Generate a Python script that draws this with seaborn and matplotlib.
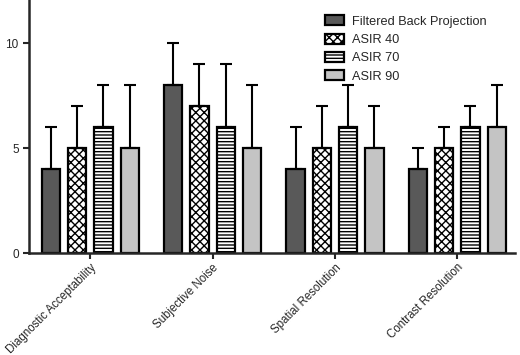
import pandas as pd
import matplotlib.pyplot as plt
import seaborn as sns

categories = ['Diagnostic Acceptability', 'Subjective Noise', 'Spatial Resolution', 'Contrast Resolution']
methods = ['Filtered Back Projection', 'ASIR 40', 'ASIR 70', 'ASIR 90']

# bar heights per method (one value per category)
fbp = [4, 8, 4, 4]
asir40 = [5, 7, 5, 5]
asir70 = [6, 6, 6, 6]
asir90 = [5, 5, 5, 6]

# top of the upper error bar per method
fbp_top = [6, 10, 6, 5]
asir40_top = [7, 9, 7, 6]
asir70_top = [8, 9, 8, 7]
asir90_top = [8, 8, 7, 8]

values = [fbp, asir40, asir70, asir90]
tops = [fbp_top, asir40_top, asir70_top, asir90_top]

rows = []
for m, vals in zip(methods, values):
    for c, v in zip(categories, vals):
        rows.append({'category': c, 'method': m, 'score': v})
df = pd.DataFrame(rows)

sns.set_style('ticks')
plt.rcParams['font.family'] = ['Liberation Sans', 'DejaVu Sans']
plt.rcParams['hatch.linewidth'] = 1.0

fig = plt.figure(figsize=(5.2, 3.55), dpi=100)
ax = fig.add_axes([0.056, 0.287, 0.934, 0.713])

palette = ['#595959', 'white', 'white', '#c4c4c4']
sns.barplot(
    data=df, x='category', y='score', hue='method',
    palette=palette, edgecolor='black', linewidth=1.6,
    width=0.86, gap=0.3, errorbar=None, ax=ax, legend=False,
)

hatches = [None, 'xxxx', '-----', None]
for cont, hatch, vals, top in zip(ax.containers, hatches, values, tops):
    xs = []
    for bar in cont:
        if hatch:
            bar.set_hatch(hatch)
        xs.append(bar.get_x() + bar.get_width() / 2)
    err = [t - v for t, v in zip(top, vals)]
    ax.errorbar(xs, vals, yerr=[[0] * len(vals), err], fmt='none',
                ecolor='black', elinewidth=1.5, capsize=4, capthick=1.5, zorder=1)

ax.set_xlim(-0.5, 3.47)
ax.set_ylim(0, 12.05)
ax.set_yticks([0, 5, 10])
ax.set_xlabel('')
ax.set_ylabel('')
ax.set_xticks(range(len(categories)))
ax.set_xticklabels(categories, rotation=45, ha='right', rotation_mode='anchor', fontsize=8.3)
ax.tick_params(axis='y', labelsize=8.5, width=1.5, length=4)
ax.tick_params(axis='x', width=1.5, length=4, pad=2)
for s in ['left', 'bottom']:
    ax.spines[s].set_linewidth(1.8)
sns.despine(ax=ax)

ax.legend(ax.containers, methods, loc='upper left', bbox_to_anchor=(0.585, 0.985),
          frameon=False, fontsize=9.2, handlelength=1.5, handleheight=0.85,
          labelspacing=0.45, handletextpad=0.6)

fig.savefig('out.png', dpi=100)
